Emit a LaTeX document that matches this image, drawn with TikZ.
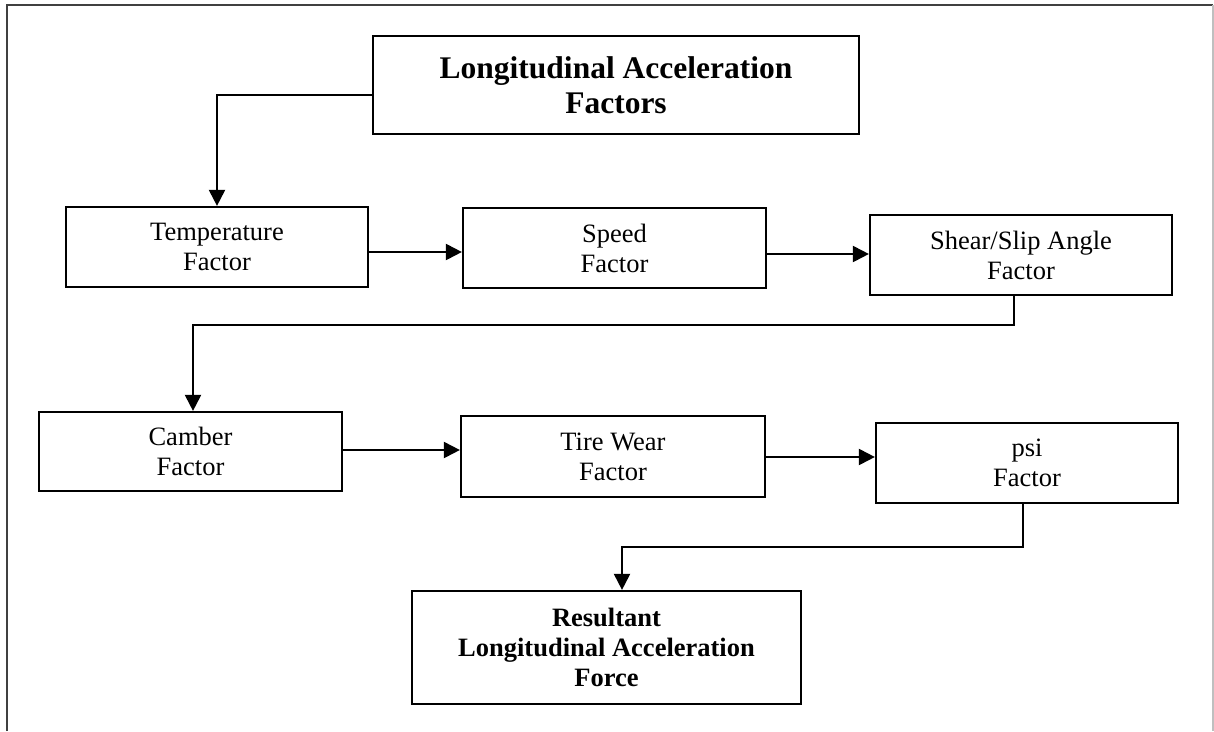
\documentclass[tikz,border=0pt]{standalone}
\usepackage{fontspec}
\setmainfont{Liberation Serif}
\usetikzlibrary{arrows.meta}
\begin{document}
\begin{tikzpicture}[x=1pt,y=-1pt,
  every node/.style={font=\fontsize{26.5}{30}\selectfont},
  box/.style={draw=black,line width=2.2pt,inner sep=0pt,align=center},
  conn/.style={line width=2pt,black},
  arr/.style={conn,-{Triangle[length=16pt,width=16pt]}}]
\useasboundingbox (0,0) rectangle (1214,731);
% page frame
\draw[line width=2.2pt,black!75] (7,731) -- (7,5) -- (1213,5);
\draw[line width=1.2pt,black!25] (1213,5) -- (1213,731);
% boxes
\node[box,minimum width=486pt,minimum height=98pt,
      font=\fontsize{31.5}{35}\selectfont\bfseries] (title) at (616,85)
  {Longitudinal Acceleration\\Factors};
\node[box,minimum width=302pt,minimum height=80pt] (temp) at (217,247)
  {Temperature\\Factor};
\node[box,minimum width=303pt,minimum height=80pt] (speed) at (614.5,248)
  {Speed\\Factor};
\node[box,minimum width=302pt,minimum height=80pt] (shear) at (1021,255)
  {Shear/Slip Angle\\Factor};
\node[box,minimum width=303pt,minimum height=79pt] (camber) at (190.5,451.5)
  {Camber\\Factor};
\node[box,minimum width=304pt,minimum height=81pt] (tire) at (613,456.5)
  {Tire Wear\\Factor};
\node[box,minimum width=302pt,minimum height=80pt] (psi) at (1027,463)
  {psi\\Factor};
\node[box,minimum width=389pt,minimum height=113pt,
      font=\fontsize{26.5}{30}\selectfont\bfseries] (result) at (606.5,647.5)
  {Resultant\\Longitudinal Acceleration\\Force};
% connectors
\draw[arr] ([yshift=-10pt]title.west) -| (temp.north);
\draw[arr] ([yshift=-5pt]temp.east) -- ([yshift=-4pt]speed.west);
\draw[arr] ([yshift=-6pt]speed.east) -- ([yshift=1pt]shear.west);
\draw[arr] ([xshift=-7pt]shear.south) -- ++(0,29) -| ([xshift=2.5pt]camber.north);
\draw[arr] ([yshift=1.5pt]camber.east) -- ([yshift=6.5pt]tire.west);
\draw[arr] ([yshift=-0.5pt]tire.east) -- ([yshift=6pt]psi.west);
\draw[arr] ([xshift=-4pt]psi.south) -- ++(0,43) -| ([xshift=15.5pt]result.north);
\end{tikzpicture}
\end{document}
